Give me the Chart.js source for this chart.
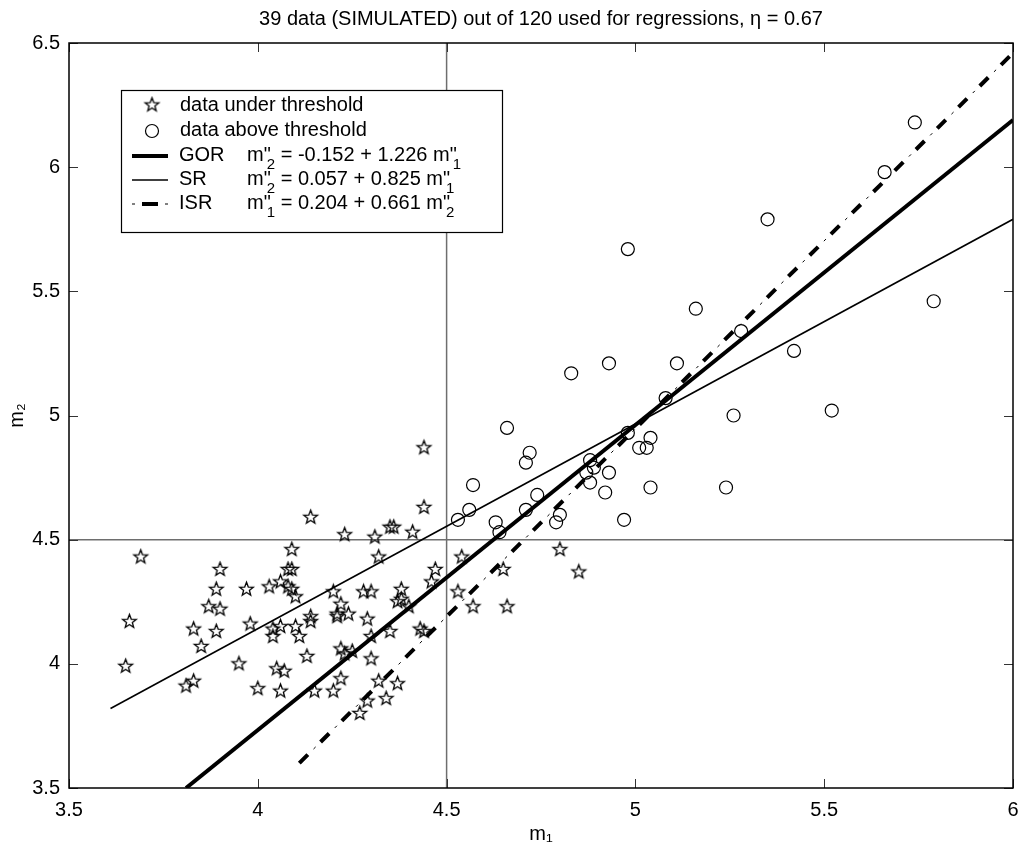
<!DOCTYPE html>
<html>
<head>
<meta charset="utf-8">
<script src="https://cdn.jsdelivr.net/npm/chart.js@4.4.1/dist/chart.umd.min.js"></script>
<style>
  html, body { margin: 0; padding: 0; background: #fff; }
  #wrap { width: 1023px; height: 850px; }
</style>
</head>
<body>
<div id="wrap"><canvas id="regChart" width="1023" height="850"></canvas></div>
<script>
// values (m1, m2)
const underX = [4.44, 4.14, 4.44, 4.23, 4.31, 4.35, 4.36, 4.41, 3.69, 4.09, 3.90, 4.08, 4.09, 4.32, 4.47, 4.54,
  3.89, 3.97, 4.03, 4.06, 4.09, 4.10, 4.20, 4.28, 4.30, 4.38, 4.37, 4.38, 4.46, 4.53, 4.57, 3.87, 3.90,
  3.66, 3.65, 3.83, 3.89, 3.85, 3.81, 3.83, 3.98, 3.95, 4.00, 4.04, 4.06, 4.04, 4.10, 4.11, 4.05, 4.07,
  4.06, 4.13, 4.14, 4.14, 4.22, 4.21, 4.24, 4.29, 4.30, 4.35, 4.40, 4.22, 4.23, 4.25, 4.22, 4.30, 4.15,
  4.20, 4.32, 4.37, 4.29, 4.34, 4.27, 4.43, 4.44, 4.80, 4.65, 4.85, 4.66, 4.08, 4.21];
const underY = [4.87, 4.59, 4.63, 4.52, 4.51, 4.55, 4.55, 4.53, 4.43, 4.46, 4.38, 4.38, 4.38, 4.43, 4.38, 4.43,
  4.30, 4.30, 4.31, 4.33, 4.30, 4.27, 4.29, 4.29, 4.29, 4.30, 4.25, 4.26, 4.33, 4.29, 4.23, 4.23, 4.22,
  4.17, 3.99, 4.14, 4.13, 4.07, 3.91, 3.93, 4.16, 4.00, 3.90, 4.14, 4.15, 4.11, 4.15, 4.11, 3.98, 3.97,
  3.89, 4.03, 4.19, 4.17, 4.24, 4.19, 4.20, 4.18, 4.11, 4.13, 4.23, 4.06, 4.04, 4.05, 3.94, 4.02, 3.89,
  3.89, 3.93, 3.92, 3.85, 3.86, 3.80, 4.14, 4.13, 4.46, 4.38, 4.37, 4.23, 4.31, 4.20];
const aboveX = [5.74, 5.66, 5.35, 4.98, 5.79, 5.16, 5.28, 5.42, 4.93, 5.11, 4.83, 5.08, 5.52, 5.26, 4.66,
  4.98, 5.04, 5.01, 5.03, 4.72, 4.71, 4.88, 4.87, 4.93, 4.88, 4.57, 5.24, 5.04, 4.92, 4.74, 4.71, 4.56,
  4.80, 4.53, 4.97, 4.79, 4.63, 4.64, 4.89];
const aboveY = [6.18, 5.98, 5.79, 5.67, 5.46, 5.43, 5.34, 5.26, 5.21, 5.21, 5.17, 5.07, 5.02, 5.00, 4.95,
  4.93, 4.91, 4.87, 4.87, 4.85, 4.81, 4.82, 4.77, 4.77, 4.73, 4.72, 4.71, 4.71, 4.69, 4.68, 4.62, 4.62,
  4.60, 4.58, 4.58, 4.57, 4.57, 4.53, 4.79];

// regression line end points as drawn
const gorX = [3.81, 6.0];
const gorY = [3.5, 6.19];
const srX = [3.61, 6.0];
const srY = [3.82, 5.79];
const isrX = [4.11, 6.0];
const isrY = [3.6, 6.46];

const thresh = 4.5;
const xTicks = [3.5, 4, 4.5, 5, 5.5, 6];
const yTicks = [3.5, 4, 4.5, 5, 5.5, 6, 6.5];

const FONT = "'Liberation Sans', Arial, Helvetica, sans-serif";

function pts(xs, ys) {
    return xs.map((x, i) => ({ x: x, y: ys[i] }));
}

// five-pointed hollow star used as point marker
function makeStar(r) {
    const c = document.createElement('canvas');
    const s = Math.ceil(r * 2 + 4);
    c.width = s; c.height = s;
    const g = c.getContext('2d');
    g.beginPath();
    for (let k = 0; k < 10; k++) {
        const rad = k % 2 === 0 ? r : r * 0.42;
        const a = -Math.PI / 2 + k * Math.PI / 5;
        const px = s / 2 + rad * Math.cos(a), py = s / 2 + rad * Math.sin(a);
        if (k === 0) g.moveTo(px, py); else g.lineTo(px, py);
    }
    g.closePath();
    g.lineWidth = 1.3;
    g.strokeStyle = '#000';
    g.stroke();
    return c;
}
const starImg = makeStar(7.2);

// MATLAB-like box with inward ticks on all four sides
const frameTicks = {
    id: 'frameTicks',
    afterDatasetsDraw(chart) {
        const { ctx, chartArea: a, scales } = chart;
        ctx.save();
        ctx.strokeStyle = '#333';
        ctx.lineWidth = 1;
        ctx.beginPath();
        xTicks.forEach(v => {
            const px = Math.round(scales.x.getPixelForValue(v)) + 0.5;
            ctx.moveTo(px, a.bottom); ctx.lineTo(px, a.bottom - 9);
            ctx.moveTo(px, a.top); ctx.lineTo(px, a.top + 9);
        });
        yTicks.forEach(v => {
            const py = Math.round(scales.y.getPixelForValue(v)) + 0.5;
            ctx.moveTo(a.left, py); ctx.lineTo(a.left + 9, py);
            ctx.moveTo(a.right, py); ctx.lineTo(a.right - 9, py);
        });
        ctx.stroke();
        ctx.strokeStyle = '#000';
        ctx.lineWidth = 1.5;
        ctx.strokeRect(a.left, a.top, a.right - a.left, a.bottom - a.top);
        ctx.restore();
    }
};

function richText(ctx, x, y, parts) {
    parts.forEach(p => {
        if (p[1]) {
            ctx.font = '15px ' + FONT;
            ctx.fillText(p[0], x - 4, y + 10);
            x += ctx.measureText(p[0]).width - 4;
        } else {
            ctx.font = '20px ' + FONT;
            ctx.fillText(p[0], x, y);
            x += ctx.measureText(p[0]).width;
        }
    });
}

const legendBox = {
    id: 'legendBox',
    afterDraw(chart) {
        const ctx = chart.ctx;
        ctx.save();
        ctx.fillStyle = '#fff';
        ctx.fillRect(121, 90, 381, 142);
        ctx.strokeStyle = '#000';
        ctx.lineWidth = 1.2;
        ctx.strokeRect(121.5, 90.5, 381, 142);

        ctx.fillStyle = '#000';
        ctx.textBaseline = 'middle';
        ctx.drawImage(starImg, 152 - starImg.width / 2, 105 - starImg.height / 2);
        ctx.font = '20px ' + FONT;
        ctx.fillText('data under threshold', 180, 105);

        ctx.beginPath();
        ctx.arc(152, 131, 6.5, 0, Math.PI * 2);
        ctx.lineWidth = 1.2;
        ctx.stroke();
        ctx.fillText('data above threshold', 180, 130);

        ctx.lineWidth = 4;
        ctx.beginPath(); ctx.moveTo(132, 156); ctx.lineTo(168, 156); ctx.stroke();
        ctx.lineWidth = 1.5;
        ctx.beginPath(); ctx.moveTo(132, 180); ctx.lineTo(168, 180); ctx.stroke();
        ctx.lineWidth = 1;
        ctx.beginPath();
        ctx.moveTo(132, 204); ctx.lineTo(135, 204);
        ctx.moveTo(165, 204); ctx.lineTo(168, 204);
        ctx.stroke();
        ctx.lineWidth = 4;
        ctx.beginPath(); ctx.moveTo(142, 204); ctx.lineTo(158, 204); ctx.stroke();

        const rows = [
            ['GOR', 155, [['m"'], ['2', 1], [' = -0.152 + 1.226 m"'], ['1', 1]]],
            ['SR', 179, [['m"'], ['2', 1], [' = 0.057 + 0.825 m"'], ['1', 1]]],
            ['ISR', 203, [['m"'], ['1', 1], [' = 0.204 + 0.661 m"'], ['2', 1]]]
        ];
        rows.forEach(r => {
            ctx.font = '20px ' + FONT;
            ctx.fillText(r[0], 179, r[1]);
            richText(ctx, 247, r[1], r[2]);
        });
        ctx.restore();
    }
};

const lineDs = (label, xs, ys, w, dash, offset) => ({
    label: label,
    data: pts(xs, ys),
    showLine: true,
    pointRadius: 0,
    borderColor: '#000',
    borderWidth: w,
    borderDash: dash || [],
    borderDashOffset: offset || 0,
    fill: false
});

const refColor = '#6e6e6e';
const tickFont = { family: FONT, size: 20 };

new Chart(document.getElementById('regChart'), {
    type: 'scatter',
    data: {
        datasets: [
            {
                label: 'data under threshold',
                data: pts(underX, underY),
                pointStyle: starImg,
                pointRadius: 7
            },
            {
                label: 'data above threshold',
                data: pts(aboveX, aboveY),
                pointStyle: 'circle',
                pointRadius: 6.5,
                borderColor: '#000',
                backgroundColor: 'rgba(0,0,0,0)',
                borderWidth: 1.2
            },
            lineDs('GOR', gorX, gorY, 4),
            lineDs('SR', srX, srY, 1.6),
            lineDs('ISR', isrX, isrY, 4, [12, 18], 0),
            lineDs('ISR dots', isrX, isrY, 1, [3, 27], -20),
            {
                label: 'v',
                data: [{ x: thresh, y: yTicks[0] }, { x: thresh, y: yTicks[yTicks.length - 1] }],
                showLine: true, pointRadius: 0, borderColor: refColor, borderWidth: 1.5
            },
            {
                label: 'h',
                data: [{ x: xTicks[0], y: thresh }, { x: xTicks[xTicks.length - 1], y: thresh }],
                showLine: true, pointRadius: 0, borderColor: refColor, borderWidth: 1.5
            }
        ]
    },
    options: {
        responsive: false,
        animation: false,
        devicePixelRatio: 1,
        events: [],
        layout: { padding: { top: 0, right: 10, left: 0, bottom: 0 } },
        scales: {
            x: {
                type: 'linear',
                min: 3.5, max: 6,
                afterBuildTicks: s => { s.ticks = xTicks.map(v => ({ value: v })); },
                // fixed height, and no extra room reserved for the end labels
                afterFit: s => { s.height = 62; s.paddingLeft = 0; s.paddingRight = 0; },
                grid: { display: false, drawTicks: false },
                border: { display: false },
                ticks: { color: '#000', padding: 10, font: tickFont, callback: v => String(v) },
                title: {
                    display: true, text: 'm\u2081', color: '#000',
                    font: { family: FONT, size: 20 }, padding: { top: 0, bottom: 4 }
                }
            },
            y: {
                type: 'linear',
                min: 3.5, max: 6.5,
                afterBuildTicks: s => { s.ticks = yTicks.map(v => ({ value: v })); },
                afterFit: s => { s.width = 69; s.paddingTop = 0; s.paddingBottom = 0; },
                grid: { display: false, drawTicks: false },
                border: { display: false },
                ticks: { color: '#000', padding: 9, font: tickFont, callback: v => String(v) },
                title: {
                    display: true, text: 'm\u2082', color: '#000',
                    font: { family: FONT, size: 20 }, padding: { top: 5, bottom: 0 }
                }
            }
        },
        plugins: {
            legend: { display: false },
            tooltip: { enabled: false },
            title: {
                display: true,
                fullSize: false,
                text: '39 data (SIMULATED) out of 120 used for regressions, \u03b7 = 0.67',
                color: '#000',
                font: { family: FONT, size: 20, weight: 'normal' },
                padding: { top: 7, bottom: 12 }
            }
        }
    },
    plugins: [frameTicks, legendBox]
});
</script>
</body>
</html>
